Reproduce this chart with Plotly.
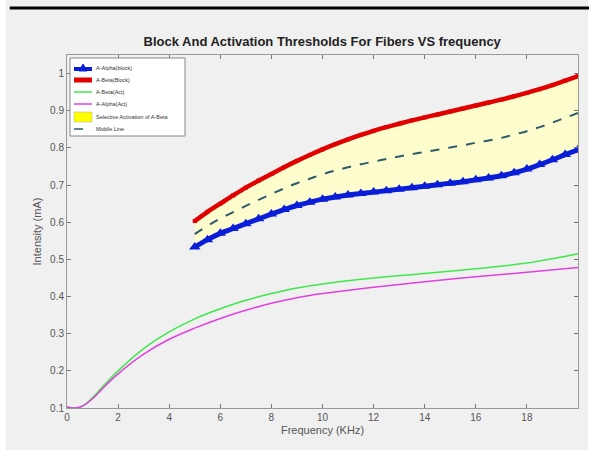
import plotly.graph_objects as go

# ---- data ----
x_block = [5.0, 5.5, 6.0, 6.5, 7.0, 7.5, 8.0, 8.5, 9.0, 9.5, 10.0, 10.5, 11.0, 11.5, 12.0, 12.5,
           13.0, 13.5, 14.0, 14.5, 15.0, 15.5, 16.0, 16.5, 17.0, 17.5, 18.0, 18.5, 19.0, 19.5, 20.0]
alpha_block = [0.533, 0.553, 0.570, 0.583, 0.596, 0.609, 0.622, 0.634, 0.645, 0.654, 0.662, 0.668,
               0.673, 0.677, 0.681, 0.685, 0.689, 0.693, 0.697, 0.701, 0.705, 0.709, 0.714, 0.719,
               0.725, 0.733, 0.743, 0.755, 0.768, 0.782, 0.795]
beta_block = [0.603, 0.628, 0.650, 0.672, 0.693, 0.712, 0.730, 0.748, 0.765, 0.781, 0.796, 0.810,
              0.823, 0.835, 0.846, 0.856, 0.865, 0.874, 0.882, 0.890, 0.898, 0.906, 0.914, 0.922,
              0.930, 0.939, 0.948, 0.958, 0.969, 0.981, 0.993]
middle_line = [0.568, 0.590, 0.610, 0.627, 0.644, 0.660, 0.676, 0.691, 0.705, 0.717, 0.729, 0.739,
               0.748, 0.756, 0.763, 0.770, 0.777, 0.783, 0.789, 0.795, 0.801, 0.807, 0.814, 0.820,
               0.827, 0.836, 0.845, 0.856, 0.868, 0.881, 0.894]

x_act = [0, 0.3, 0.6, 1, 1.5, 2, 3, 4, 5, 6, 7, 8, 9, 10, 12, 14, 16, 18, 20]
beta_act = [0.103, 0.100, 0.105, 0.128, 0.165, 0.200, 0.260, 0.305, 0.340, 0.367, 0.390, 0.408,
            0.423, 0.434, 0.450, 0.462, 0.475, 0.490, 0.515]
alpha_act = [0.103, 0.100, 0.105, 0.125, 0.160, 0.192, 0.245, 0.285, 0.315, 0.341, 0.363, 0.382,
             0.397, 0.408, 0.425, 0.440, 0.453, 0.465, 0.478]

x_ticks = [0, 2, 4, 6, 8, 10, 12, 14, 16, 18]
y_ticks = [0.1, 0.2, 0.3, 0.4, 0.5, 0.6, 0.7, 0.8, 0.9, 1.0]

names = ["A-Alpha(block)", "A-Beta(Block)", "A-Beta(Act)", "A-Alpha(Act)",
         "Selective Activation of A-Beta", "Middle Line"]

BLUE, RED, GREEN, MAGENTA, YELLOW, DASH = "#0a1ed8", "#e00000", "#3ee84a", "#e040e0", "#ffff00", "#2e5a6b"

fig = go.Figure()

fig.add_trace(go.Scatter(x=x_block, y=alpha_block, mode="lines+markers", name=names[0],
                         line=dict(color=BLUE, width=5, shape="spline"),
                         marker=dict(symbol="triangle-up", size=10, color=BLUE)))
fig.add_trace(go.Scatter(x=x_block, y=beta_block, mode="lines+markers", name=names[1],
                         line=dict(color=RED, width=4.5, shape="spline"),
                         marker=dict(symbol="square", size=4, color=RED),
                         fill="tonexty", fillcolor="rgba(255,255,195,0.8)"))
fig.add_trace(go.Scatter(x=x_act, y=beta_act, mode="lines", name=names[2],
                         line=dict(color=GREEN, width=1.5, shape="spline")))
fig.add_trace(go.Scatter(x=x_act, y=alpha_act, mode="lines", name=names[3],
                         line=dict(color=MAGENTA, width=1.5, shape="spline")))
fig.add_trace(go.Scatter(x=x_block, y=middle_line, mode="lines", name=names[5],
                         line=dict(color=DASH, width=2, dash="dash", shape="spline")))

# plot area in pixels: x 67..578, y 55..408
def px(x):
    return (x - 67) / 511.0

def py(y):
    return (408 - y) / 353.0

shapes = [
    dict(type="rect", xref="paper", yref="paper", x0=-0.12, x1=1.02, y0=-0.12, y1=1.18,
         fillcolor="#f0f0f0", line=dict(width=0), layer="below"),
    dict(type="line", xref="paper", yref="paper", x0=-0.112, x1=1.03, y0=1.133, y1=1.133,
         line=dict(color="black", width=3)),
    # legend box
    dict(type="rect", xref="paper", yref="paper", x0=px(70), x1=px(185), y0=py(136), y1=py(58),
         fillcolor="white", line=dict(color="#888888", width=1)),
]
annotations = []
item_y = [68, 80, 92, 104, 117, 129]
sw0, sw1 = 74, 92
for i, (name, yy) in enumerate(zip(names, item_y)):
    if i == 0:
        shapes.append(dict(type="line", xref="paper", yref="paper", x0=px(sw0), x1=px(sw1),
                           y0=py(yy + 1), y1=py(yy + 1), line=dict(color=BLUE, width=4)))
        shapes.append(dict(type="path", xref="paper", yref="paper",
                           path=f"M {px(79)},{py(yy + 3)} L {px(87)},{py(yy + 3)} L {px(83)},{py(yy - 4)} Z",
                           fillcolor=BLUE, line=dict(color=BLUE, width=1)))
    elif i == 1:
        shapes.append(dict(type="line", xref="paper", yref="paper", x0=px(sw0), x1=px(sw1),
                           y0=py(yy), y1=py(yy), line=dict(color=RED, width=5)))
    elif i == 2:
        shapes.append(dict(type="line", xref="paper", yref="paper", x0=px(sw0), x1=px(sw1),
                           y0=py(yy), y1=py(yy), line=dict(color=GREEN, width=1.5)))
    elif i == 3:
        shapes.append(dict(type="line", xref="paper", yref="paper", x0=px(sw0), x1=px(sw1),
                           y0=py(yy), y1=py(yy), line=dict(color=MAGENTA, width=1.5)))
    elif i == 4:
        shapes.append(dict(type="rect", xref="paper", yref="paper", x0=px(sw0), x1=px(sw1),
                           y0=py(yy + 5), y1=py(yy - 5), fillcolor=YELLOW,
                           line=dict(color="#aaaaaa", width=0.5)))
    else:
        shapes.append(dict(type="line", xref="paper", yref="paper", x0=px(sw0), x1=px(sw1),
                           y0=py(yy), y1=py(yy), line=dict(color=DASH, width=1.5, dash="dash")))
    annotations.append(dict(xref="paper", yref="paper", x=px(94), y=py(yy), xanchor="left",
                            yanchor="middle", showarrow=False, text=name,
                            font=dict(size=5.5, color="#333333",
                                      family="Liberation Sans Narrow, Liberation Sans, Arial")))

fig.update_layout(
    width=589, height=452,
    paper_bgcolor="white",
    plot_bgcolor="white",
    margin=dict(l=67, r=11, t=55, b=44),
    title=dict(text="<b>Block And Activation Thresholds For Fibers VS frequency</b>",
               x=0.547, xanchor="center", y=0.908, yanchor="middle",
               font=dict(family="Liberation Sans Narrow, Liberation Sans, Arial", size=13, color="#222222")),
    font=dict(family="Liberation Sans, Arial", color="#555555"),
    showlegend=False,
    shapes=shapes,
    annotations=annotations,
)

fig.update_xaxes(range=[0, 20], tickvals=x_ticks, ticks="inside", ticklen=4,
                 tickcolor="#777777", showline=True, linecolor="#999999", linewidth=1,
                 mirror="ticks", showgrid=False, zeroline=False,
                 tickfont=dict(size=10, color="#555555"),
                 title=dict(text="Frequency (KHz)", font=dict(size=11, color="#555555"), standoff=4))
fig.update_yaxes(range=[0.1, 1.05], tickvals=y_ticks, ticks="inside", ticklen=4,
                 tickcolor="#777777", showline=True, linecolor="#999999", linewidth=1,
                 mirror="ticks", showgrid=False, zeroline=False,
                 tickfont=dict(size=10, color="#555555"),
                 title=dict(text="Intensity (mA)", font=dict(size=11, color="#555555"), standoff=6))

fig.write_html("out.html")
